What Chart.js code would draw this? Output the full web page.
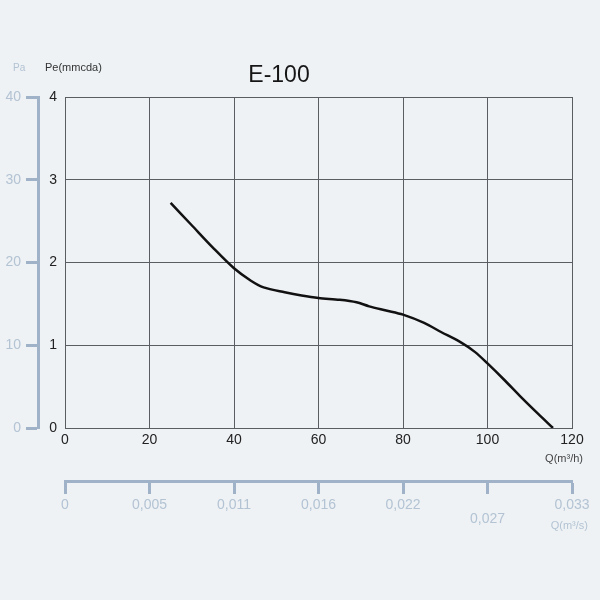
<!DOCTYPE html>
<html>
<head>
<meta charset="utf-8">
<script src="https://cdn.jsdelivr.net/npm/chart.js@4/dist/chart.umd.min.js"></script>
<style>
  html, body { margin: 0; padding: 0; background: #eef2f5; }
  canvas { display: block; }
</style>
</head>
<body>
<canvas id="fan_chart" width="600" height="600"></canvas>
<script>
// airflow Q (m3/h) and static pressure Pe (mmcda)
const flowValues = [25, 30, 35, 40, 44, 47, 52, 56, 60, 65, 69, 72, 76, 80, 85, 89, 93.5, 97, 100, 104, 108, 112, 115.5];
const pressureValues = [2.72, 2.45, 2.18, 1.93, 1.78, 1.70, 1.64, 1.60, 1.57, 1.55, 1.52, 1.47, 1.42, 1.37, 1.27, 1.16, 1.04, 0.92, 0.78, 0.58, 0.37, 0.17, 0];

// secondary axis labels (m3/s), one per 20 m3/h gridline
const flowSecondsLabels = ["0", "0,005", "0,011", "0,016", "0,022", "0,027", "0,033"];

const FONT = '"Liberation Sans", Arial, sans-serif';
const gridColor = "#5a5d61";
const outerColor = "#9fb2c7";
const outerText = "#b3c3d3";

const textPlugin = {
  id: "texts",
  afterDraw(chart) {
    const ctx = chart.ctx;
    const area = chart.chartArea;
    ctx.save();
    ctx.textBaseline = "middle";

    ctx.fillStyle = "#151515";
    ctx.font = `23px ${FONT}`;
    ctx.textAlign = "center";
    ctx.fillText("E-100", 279, 76);

    ctx.font = `11px ${FONT}`;
    ctx.textAlign = "left";
    ctx.fillStyle = "#333";
    ctx.fillText("Pe(mmcda)", 45, 68);
    ctx.fillStyle = outerText;
    ctx.font = `10px ${FONT}`;
    ctx.fillText("Pa", 13, 68);

    ctx.font = `11px ${FONT}`;
    ctx.textAlign = "right";
    ctx.fillStyle = "#444";
    ctx.fillText("Q(m³/h)", area.right + 11, area.bottom + 31);
    ctx.fillStyle = outerText;
    ctx.fillText("Q(m³/s)", area.right + 16, area.bottom + 98);
    ctx.restore();
  },
};

new Chart(document.getElementById("fan_chart"), {
  type: "line",
  data: {
    datasets: [
      {
        label: "E-100",
        data: flowValues.map((q, i) => ({ x: q, y: pressureValues[i] })),
        borderColor: "#111",
        borderWidth: 2.5,
        pointRadius: 0,
        tension: 0.3,
        fill: false,
      },
    ],
  },
  options: {
    responsive: false,
    animation: false,
    layout: { padding: { top: 97, right: 28, bottom: 67, left: 0 } },
    plugins: {
      legend: { display: false },
      tooltip: { enabled: false },
    },
    scales: {
      x: {
        type: "linear",
        position: "bottom",
        weight: 0,
        min: 0,
        max: 120,
        ticks: { stepSize: 20, color: "#222", font: { family: FONT, size: 14 }, padding: 4, maxRotation: 0 },
        grid: { color: gridColor, drawTicks: false },
        border: { color: gridColor },
        afterFit(scale) { scale.height = 53; },
      },
      xs: {
        type: "linear",
        position: "bottom",
        weight: 1,
        min: 0,
        max: 120,
        ticks: {
          stepSize: 20,
          color: outerText,
          font: { family: FONT, size: 14, lineHeight: 1 },
          padding: 4,
          maxRotation: 0,
          callback: (v, i) => (i === 5 ? ["", flowSecondsLabels[i]] : flowSecondsLabels[i]),
        },
        grid: { drawOnChartArea: false, tickLength: 13, tickWidth: 3, tickColor: outerColor },
        border: { color: outerColor, width: 3 },
        afterFit(scale) { scale.height = 52; },
      },
      y: {
        position: "left",
        weight: 0,
        min: 0,
        max: 4,
        ticks: { stepSize: 1, color: "#222", font: { family: FONT, size: 14 }, padding: 8 },
        grid: { color: gridColor, drawTicks: false },
        border: { color: gridColor },
        afterFit(scale) { scale.width = 27; },
      },
      yPa: {
        position: "left",
        weight: 1,
        min: 0,
        max: 40,
        ticks: { stepSize: 10, color: outerText, font: { family: FONT, size: 14 }, padding: 5 },
        grid: { drawOnChartArea: false, tickLength: 12, tickWidth: 3, tickColor: outerColor },
        border: { color: outerColor, width: 3 },
        afterFit(scale) { scale.width = 38; },
      },
    },
  },
  plugins: [textPlugin],
});
</script>
</body>
</html>
